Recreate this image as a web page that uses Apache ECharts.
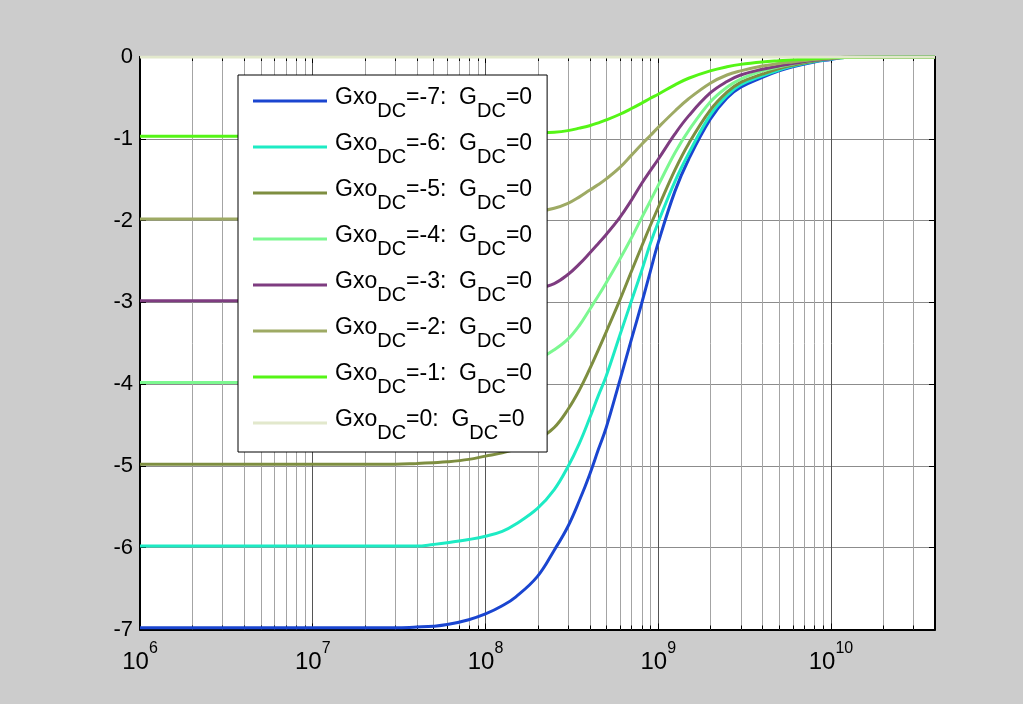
<!DOCTYPE html>
<html>
<head>
<meta charset="utf-8">
<script src="https://cdn.jsdelivr.net/npm/echarts@6/dist/echarts.min.js"></script>
<style>
html,body{margin:0;padding:0;background:#cccccc;}
#main{width:1023px;height:704px;}
</style>
</head>
<body>
<div id="main"></div>
<script>
// ---- data ----
const freqHz = [1e6, 1e7, 2e7, 3e7, 4e7, 5e7, 6e7, 8e7, 1e8, 1.25e8, 1.5e8, 2e8, 2.5e8, 3e8, 3.5e8, 4e8, 4.5e8, 5e8, 6e8, 7e8, 8e8, 9e8, 1e9, 1.25e9, 1.5e9, 2e9, 2.5e9, 3e9, 4e9, 5e9, 6e9, 8e9, 1e10, 1.2e10, 4e10];

const gxoLevels = [-7, -6, -5, -4, -3, -2, -1, 0];
const gdcLevel = 0;

const gainGxoM7 = [-6.98,-6.98,-6.98,-6.98,-6.97,-6.96,-6.94,-6.88,-6.81,-6.71,-6.60,-6.35,-6.03,-5.74,-5.42,-5.11,-4.80,-4.53,-3.95,-3.45,-3.02,-2.62,-2.27,-1.64,-1.25,-0.76,-0.50,-0.37,-0.25,-0.17,-0.12,-0.06,-0.03,-0.005,0];
const gainGxoM6 = [-5.98,-5.98,-5.98,-5.98,-5.98,-5.96,-5.94,-5.90,-5.86,-5.80,-5.71,-5.52,-5.29,-5.01,-4.72,-4.42,-4.14,-3.90,-3.40,-2.98,-2.62,-2.28,-2.02,-1.52,-1.18,-0.71,-0.47,-0.34,-0.23,-0.16,-0.11,-0.055,-0.025,-0.005,0];
const gainGxoM5 = [-4.98,-4.98,-4.98,-4.98,-4.97,-4.96,-4.95,-4.92,-4.88,-4.84,-4.79,-4.68,-4.53,-4.31,-4.07,-3.82,-3.58,-3.36,-2.97,-2.62,-2.32,-2.06,-1.84,-1.38,-1.06,-0.65,-0.43,-0.31,-0.21,-0.14,-0.10,-0.05,-0.02,-0.005,0];
const gainGxoM4 = [-3.98,-3.98,-3.98,-3.97,-3.96,-3.95,-3.94,-3.91,-3.88,-3.84,-3.80,-3.70,-3.58,-3.45,-3.28,-3.09,-2.92,-2.76,-2.47,-2.21,-1.97,-1.76,-1.57,-1.17,-0.90,-0.55,-0.37,-0.27,-0.17,-0.12,-0.085,-0.04,-0.02,-0.005,0];
const gainGxoM3 = [-2.98,-2.98,-2.98,-2.97,-2.97,-2.96,-2.95,-2.93,-2.91,-2.89,-2.87,-2.83,-2.77,-2.66,-2.53,-2.40,-2.28,-2.17,-1.96,-1.75,-1.55,-1.39,-1.25,-0.94,-0.72,-0.44,-0.30,-0.22,-0.15,-0.11,-0.08,-0.04,-0.02,-0.004,0];
const gainGxoM2 = [-1.98,-1.98,-1.98,-1.98,-1.97,-1.97,-1.96,-1.95,-1.94,-1.93,-1.91,-1.89,-1.85,-1.79,-1.71,-1.63,-1.56,-1.49,-1.35,-1.20,-1.07,-0.96,-0.86,-0.66,-0.51,-0.32,-0.22,-0.17,-0.11,-0.08,-0.06,-0.03,-0.015,-0.003,0];
const gainGxoM1 = [-0.97,-0.97,-0.97,-0.97,-0.97,-0.96,-0.96,-0.96,-0.95,-0.95,-0.94,-0.93,-0.92,-0.90,-0.87,-0.84,-0.805,-0.77,-0.70,-0.63,-0.565,-0.505,-0.455,-0.34,-0.26,-0.17,-0.12,-0.09,-0.06,-0.045,-0.035,-0.02,-0.01,-0.002,0];
const gainGxo0  = [0,0,0,0,0,0,0,0,0,0,0,0,0,0,0,0,0,0,0,0,0,0,0,0,0,0,0,0,0,0,0,0,0,0,0];

const xMin = 1e6, xMax = 4e10;
const yMin = -7, yMax = 0, yStep = 1;
const xMinorGridValues = [2e6,3e6,4e6,5e6,6e6,7e6,8e6,9e6, 2e7,3e7,4e7,5e7,6e7,7e7,8e7,9e7, 2e8,3e8,4e8,5e8,6e8,7e8,8e8,9e8, 2e9,3e9,4e9,5e9,6e9,7e9,8e9,9e9, 2e10,3e10];

const lineColors = ['#1a45d0','#1debc4','#7e8e40','#7cf890','#7e3c80','#9eaa64','#55f516','#e2e8cc'];

// ---- chart ----
const FONT = "'Liberation Sans', Arial, Helvetica, sans-serif";
const gains = [gainGxoM7, gainGxoM6, gainGxoM5, gainGxoM4, gainGxoM3, gainGxoM2, gainGxoM1, gainGxo0];
const seriesNames = gxoLevels.map(g => 'GxoDC=' + g);

const chart = echarts.init(document.getElementById('main'), null, {renderer: 'canvas'});

const lineSeries = gxoLevels.map((g, i) => ({
  name: seriesNames[i],
  type: 'line',
  xAxisIndex: 0,
  yAxisIndex: 0,
  data: freqHz.map((f, j) => [f, gains[i][j]]),
  showSymbol: false,
  symbol: 'none',
  smooth: 0.4,
  lineStyle: {width: 3, color: lineColors[i]},
  itemStyle: {color: lineColors[i]},
  animation: false,
  z: 3
}));

const minorGridSeries = {
  name: 'minorGrid',
  type: 'custom',
  xAxisIndex: 0,
  yAxisIndex: 0,
  silent: true,
  z: 1,
  animation: false,
  data: xMinorGridValues.map(v => [v, yMin]),
  renderItem: function (params, api) {
    const p = api.coord([api.value(0), api.value(1)]);
    const cs = params.coordSys;
    const x = Math.round(p[0]) + 0.5;
    return {
      type: 'group',
      children: [
        {type: 'line', shape: {x1: x, y1: cs.y, x2: x, y2: cs.y + cs.height}, style: {stroke: '#a4a4a4', lineWidth: 1}},
        {type: 'line', shape: {x1: x, y1: cs.y, x2: x, y2: cs.y + 4}, style: {stroke: '#000', lineWidth: 1}},
        {type: 'line', shape: {x1: x, y1: cs.y + cs.height - 4, x2: x, y2: cs.y + cs.height}, style: {stroke: '#000', lineWidth: 1}}
      ]
    };
  }
};

function isDecade(v) {
  const l = Math.log10(v);
  return Math.abs(l - Math.round(l)) < 1e-6;
}

const option = {
  backgroundColor: '#cccccc',
  animation: false,
  textStyle: {fontFamily: FONT},
  grid: {left: 140, top: 57, right: 88, bottom: 74.5, show: true, backgroundColor: '#ffffff', borderWidth: 0},
  legend: {
    orient: 'vertical',
    left: 238,
    top: 75,
    itemWidth: 74,
    itemHeight: 3,
    itemGap: 6,
    icon: 'rect',
    padding: [6, 15, 9, 15],
    backgroundColor: '#ffffff',
    borderColor: '#000000',
    borderWidth: 1,
    selectedMode: false,
    data: seriesNames,
    formatter: function (name) {
      const i = seriesNames.indexOf(name);
      return '{g0|Gxo}{d|DC}{g|=' + gxoLevels[i] + ':\u00a0\u00a0G}{d|DC}{g|=' + gdcLevel + '}';
    },
    textStyle: {
      color: '#000',
      fontFamily: FONT,
      rich: {
        g0: {fontSize: 23, fontFamily: FONT, color: '#000', lineHeight: 24, padding: [0, 0, 6, 3], verticalAlign: 'middle'},
        g: {fontSize: 23, fontFamily: FONT, color: '#000', lineHeight: 24, padding: [0, 0, 6, 0], verticalAlign: 'middle'},
        d: {fontSize: 20, fontFamily: FONT, color: '#000', lineHeight: 20, padding: [20, 0, 0, 0], verticalAlign: 'middle'}
      }
    }
  },
  xAxis: [
    {
      type: 'log', logBase: 10, min: xMin, max: xMax, position: 'bottom',
      axisLine: {show: true, onZero: false, lineStyle: {color: '#000', width: 2}},
      axisTick: {show: true, inside: true, length: 6, lineStyle: {color: '#000', width: 1}},
      splitLine: {show: true, lineStyle: {color: '#555555', width: 1}},
      axisLabel: {
        margin: 21,
        color: '#000',
        fontFamily: FONT,
        formatter: function (v) {
          if (!isDecade(v)) return '';
          return '{b|10}{s|' + Math.round(Math.log10(v)) + '}';
        },
        rich: {
          b: {fontSize: 24, fontFamily: FONT, color: '#000', lineHeight: 24, verticalAlign: 'middle'},
          s: {fontSize: 16, fontFamily: FONT, color: '#000', lineHeight: 16, padding: [0, 0, 27, 0], verticalAlign: 'middle'}
        }
      }
    },
    {
      type: 'log', logBase: 10, min: xMin, max: xMax, position: 'top',
      axisLine: {show: true, onZero: false, lineStyle: {color: '#000', width: 2}},
      axisTick: {show: true, inside: true, length: 6, lineStyle: {color: '#000', width: 1}},
      splitLine: {show: false},
      axisLabel: {show: false}
    }
  ],
  yAxis: [
    {
      type: 'value', min: yMin, max: yMax, interval: yStep, position: 'left',
      axisLine: {show: true, onZero: false, lineStyle: {color: '#000', width: 2}},
      axisTick: {show: true, inside: true, length: 6, lineStyle: {color: '#000', width: 1}},
      splitLine: {show: true, lineStyle: {color: '#8c8c8c', width: 1}},
      axisLabel: {margin: 7, fontSize: 22, color: '#000', fontFamily: FONT}
    },
    {
      type: 'value', min: yMin, max: yMax, interval: yStep, position: 'right',
      axisLine: {show: true, onZero: false, lineStyle: {color: '#000', width: 2}},
      axisTick: {show: true, inside: true, length: 6, lineStyle: {color: '#000', width: 1}},
      splitLine: {show: false},
      axisLabel: {show: false}
    }
  ],
  series: [minorGridSeries].concat(lineSeries)
};

chart.setOption(option);
</script>
</body>
</html>
